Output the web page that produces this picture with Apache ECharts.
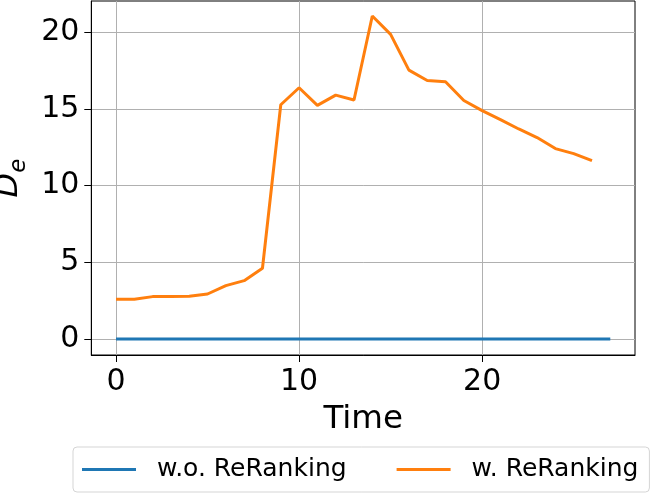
<!DOCTYPE html>
<html>
<head>
<meta charset="utf-8">
<script src="https://cdn.jsdelivr.net/npm/echarts@6/dist/echarts.min.js"></script>
<style>
html,body{margin:0;padding:0;background:#fff;}
#chart{width:664px;height:498px;}
</style>
</head>
<body>
<div id="chart"></div>
<script>
const times = [0,1,2,3,4,5,6,7,8,9,10,11,12,13,14,15,16,17,18,19,20,21,22,23,24,25,26,27];
const withoutReRanking = [0,0,0,0,0,0,0,0,0,0,0,0,0,0,0,0,0,0,0,0,0,0,0,0,0,0,0,0];
const withReRanking = [2.59,2.59,2.76,2.76,2.78,2.93,3.48,3.80,4.61,15.28,16.39,15.24,15.91,15.59,21.07,19.87,17.54,16.86,16.78,15.56,14.90,14.31,13.70,13.14,12.42,12.09,11.63];
const xTicks = [0,10,20];
const yTicks = [0,5,10,15,20];
const seriesNames = ['w.o. ReRanking','w. ReRanking'];

const FONT = 'DejaVu Sans';
const pairs = (xs, ys) => ys.map((v,i)=>[xs[i], v]);

const chart = echarts.init(document.getElementById('chart'), null, {renderer:'canvas'});
chart.setOption({
  animation:false,
  backgroundColor:'#fff',
  textStyle:{fontFamily:FONT,color:'#000'},
  grid:{left:91.3,right:29,top:1,bottom:143,containLabel:false,outerBoundsMode:'none',show:true,borderColor:'#000',borderWidth:1,backgroundColor:'transparent'},
  xAxis:{
    type:'value',min:-1.35,max:28.35,
    name:'Time',nameLocation:'middle',nameGap:48,
    nameTextStyle:{fontFamily:FONT,fontSize:32.5,color:'#000'},
    axisLine:{show:true,onZero:false,lineStyle:{color:'#000',width:1}},
    axisTick:{show:true,customValues:xTicks,length:7,inside:false,lineStyle:{color:'#000',width:1}},
    axisLabel:{customValues:xTicks,margin:12,fontFamily:FONT,fontSize:30,color:'#000'},
    splitLine:{show:true,lineStyle:{color:'#b0b0b0',width:1}}
  },
  yAxis:{
    type:'value',min:-1.05,max:22.05,
    name:'{d|D}{e|e}',nameLocation:'middle',nameGap:33,nameRotate:90,
    nameTextStyle:{fontFamily:FONT,color:'#000',rich:{
      d:{fontFamily:FONT,fontSize:32,fontStyle:'italic',lineHeight:34,verticalAlign:'top',color:'#000'},
      e:{fontFamily:FONT,fontSize:23,fontStyle:'italic',lineHeight:38,verticalAlign:'bottom',color:'#000'}
    }},
    axisLine:{show:true,onZero:false,lineStyle:{color:'#000',width:1}},
    axisTick:{show:true,customValues:yTicks,length:7,inside:false,lineStyle:{color:'#000',width:1}},
    axisLabel:{customValues:yTicks,margin:12,fontFamily:FONT,fontSize:30,color:'#000'},
    splitLine:{show:true,lineStyle:{color:'#b0b0b0',width:1}}
  },
  legend:{
    left:73,top:447,orient:'horizontal',
    data:seriesNames,
    icon:'rect',itemWidth:54,itemHeight:3,itemGap:50,
    padding:[10,11,10,9],
    borderColor:'#d5d5d5',borderWidth:1,borderRadius:4,backgroundColor:'#fff',
    textStyle:{fontFamily:FONT,fontSize:25,color:'#000',padding:[0,0,0,16]}
  },
  series:[
    {name:seriesNames[0],type:'line',data:pairs(times,withoutReRanking),showSymbol:false,symbol:'none',
     lineStyle:{color:'#1f77b4',width:3},itemStyle:{color:'#1f77b4'},z:3},
    {name:seriesNames[1],type:'line',data:pairs(times,withReRanking),showSymbol:false,symbol:'none',
     lineStyle:{color:'#ff7f0e',width:3},itemStyle:{color:'#ff7f0e'},z:4}
  ]
});
</script>
</body>
</html>
